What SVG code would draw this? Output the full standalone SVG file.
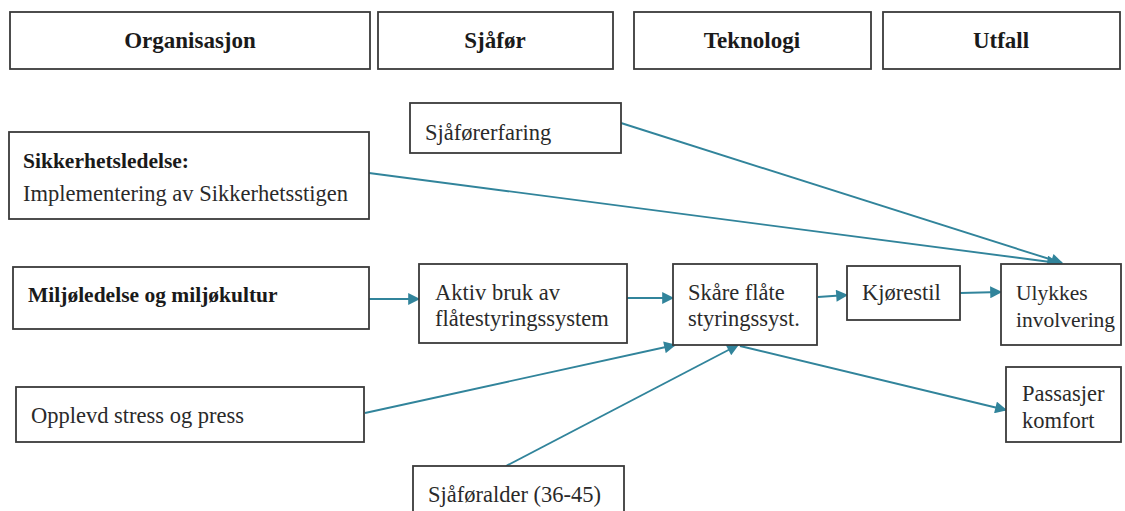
<svg xmlns="http://www.w3.org/2000/svg" width="1125" height="511" viewBox="0 0 1125 511">
<defs>
<marker id="arr" viewBox="0 0 10 10" refX="9" refY="5" markerWidth="14" markerHeight="12" markerUnits="userSpaceOnUse" orient="auto">
<path d="M0,0 L10,5 L0,10 z" fill="#31849B"/>
</marker>
<style>
.box{fill:#fff;stroke:#3a3a3a;stroke-width:1.8}
.hd{font-family:'Liberation Serif',Tinos,'Times New Roman',serif;font-weight:bold;font-size:23px;fill:#1a1a1a;text-anchor:middle}
.t{font-family:'Liberation Serif',Tinos,'Times New Roman',serif;font-size:22.5px;fill:#2a2a2a}
.s{font-size:21.5px}
.b{font-family:'Liberation Serif',Tinos,'Times New Roman',serif;font-weight:bold;font-size:21.5px;fill:#1a1a1a}
.c{fill:none;stroke:#31849B;stroke-width:1.9;marker-end:url(#arr)}
</style>
</defs>
<rect width="1125" height="511" fill="#fff"/>
<g id="h-organisasjon"><rect class="box" x="10" y="12" width="360" height="57"/><text class="hd" x="190" y="48">Organisasjon</text></g>
<g id="h-sjafor"><rect class="box" x="378" y="12" width="235" height="57"/><text class="hd" x="495" y="48">Sjåfør</text></g>
<g id="h-teknologi"><rect class="box" x="634" y="12" width="237" height="57"/><text class="hd" x="752" y="48">Teknologi</text></g>
<g id="h-utfall"><rect class="box" x="883" y="12" width="237" height="57"/><text class="hd" x="1001" y="48">Utfall</text></g>

<g id="connectors">
<line class="c" x1="621" y1="123" x2="1062" y2="263"/>
<line class="c" x1="369" y1="173" x2="1058" y2="263"/>
<line class="c" x1="369" y1="299" x2="419" y2="299"/>
<line class="c" x1="627" y1="298" x2="673" y2="298"/>
<line class="c" x1="818" y1="297" x2="847" y2="295"/>
<line class="c" x1="960" y1="293" x2="1001" y2="292"/>
<line class="c" x1="365" y1="413" x2="675" y2="345"/>
<line class="c" x1="506" y1="466" x2="738" y2="345"/>
<line class="c" x1="740" y1="346" x2="1006" y2="410"/>
</g>

<g id="n-sjaforerfaring"><rect class="box" x="410" y="103" width="211" height="50"/><text class="t" x="425" y="140">Sjåførerfaring</text></g>
<g id="n-sikkerhet"><rect class="box" x="9" y="132" width="360" height="87"/><text class="b" x="23" y="168">Sikkerhetsledelse:</text><text class="t" x="23" y="201">Implementering av Sikkerhetsstigen</text></g>
<g id="n-miljo"><rect class="box" x="13" y="267" width="356" height="62"/><text class="b" x="28" y="302">Miljøledelse og miljøkultur</text></g>
<g id="n-aktiv"><rect class="box" x="419" y="264" width="208" height="79"/><text class="t" x="435" y="300">Aktiv bruk av</text><text class="t" x="435" y="326">flåtestyringssystem</text></g>
<g id="n-skare"><rect class="box" x="673" y="264" width="144" height="81"/><text class="t" x="688" y="300">Skåre flåte</text><text class="t" x="688" y="326">styringssyst.</text></g>
<g id="n-kjorestil"><rect class="box" x="847" y="266" width="113" height="54"/><text class="t" x="862" y="300">Kjørestil</text></g>
<g id="n-ulykkes"><rect class="box" x="1001" y="264" width="120" height="81"/><text class="t s" x="1016" y="300">Ulykkes</text><text class="t s" x="1016" y="327">involvering</text></g>
<g id="n-passasjer"><rect class="box" x="1006" y="367" width="115" height="75"/><text class="t" x="1022" y="401">Passasjer</text><text class="t" x="1022" y="428">komfort</text></g>
<g id="n-opplevd"><rect class="box" x="16" y="387" width="348" height="55"/><text class="t" x="31" y="423">Opplevd stress og press</text></g>
<g id="n-sjaforalder"><rect class="box" x="413" y="466" width="211" height="60"/><text class="t" x="428" y="502">Sjåføralder (36-45)</text></g>
</svg>
